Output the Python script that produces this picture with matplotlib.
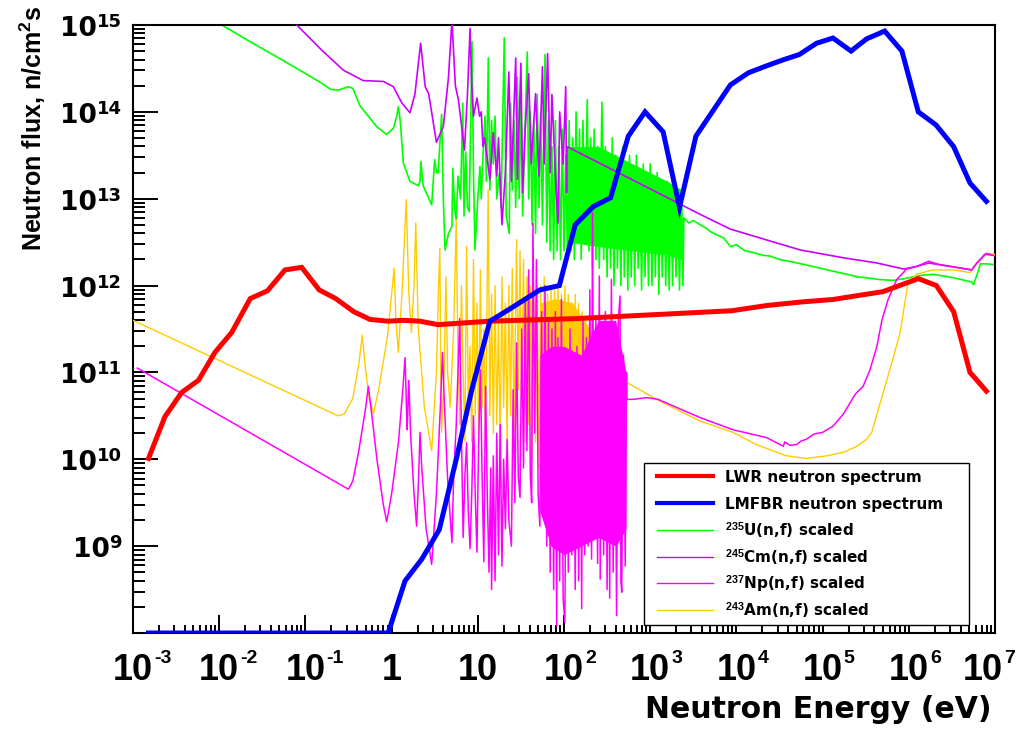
import numpy as np
import matplotlib
matplotlib.use('Agg')
import matplotlib.pyplot as plt
from matplotlib.ticker import FixedLocator, LogLocator, NullFormatter
from matplotlib.transforms import offset_copy
from matplotlib.patches import Rectangle
from matplotlib.lines import Line2D

plt.rcParams['mathtext.fontset'] = 'custom'
plt.rcParams['mathtext.rm'] = 'Liberation Sans:bold'
plt.rcParams['mathtext.bf'] = 'Liberation Sans:bold'
plt.rcParams['mathtext.default'] = 'bf'

# ---- data as (log10 E [eV], log10 flux) ----
lwr = [(-2.82, 10.01), (-2.63, 10.49), (-2.435, 10.77), (-2.24, 10.91), (-2.05, 11.23),
       (-1.855, 11.46), (-1.64, 11.85), (-1.44, 11.94), (-1.237, 12.18), (-1.043, 12.21),
       (-0.84, 11.95), (-0.648, 11.85), (-0.44, 11.70), (-0.25, 11.61), (-0.038, 11.59),
       (0.13, 11.60), (0.33, 11.59), (0.54, 11.55), (1.14, 11.59), (2.147, 11.62),
       (3.945, 11.71), (4.35, 11.77), (4.74, 11.81), (5.12, 11.84), (5.70, 11.93),
       (6.11, 12.08), (6.32, 12.0), (6.52, 11.70), (6.71, 11.0), (6.90, 10.785)]

lmfbr = [(-2.82, 8.0), (-0.04, 8.0), (0.156, 8.60), (0.35, 8.85), (0.553, 9.19),
         (0.75, 10.0), (0.93, 10.8), (1.14, 11.59), (1.37, 11.73), (1.72, 11.95),
         (1.946, 12.0), (2.13, 12.70), (2.34, 12.91), (2.54, 13.01), (2.746, 13.72),
         (2.94, 14.0), (3.15, 13.77), (3.34, 12.90), (3.53, 13.72), (3.93, 14.31),
         (4.14, 14.45), (4.35, 14.53), (4.545, 14.6), (4.73, 14.66), (4.93, 14.79),
         (5.12, 14.85), (5.33, 14.70), (5.51, 14.84), (5.72, 14.93), (5.92, 14.70),
         (6.11, 14.0), (6.315, 13.85), (6.52, 13.60), (6.71, 13.18), (6.90, 12.97)]

u235 = [(-2.2, 15.13), (-1.97, 15.0), (-1.68, 14.83), (-1.37, 14.655), (-1.10, 14.50),
        (-0.81, 14.33), (-0.71, 14.26), (-0.62, 14.25), (-0.50, 14.29), (-0.45, 14.27),
        (-0.367, 14.07), (-0.173, 13.83), (-0.058, 13.74), (0.02, 13.81), (0.06, 13.95),
        (0.078, 14.06), (0.10, 13.9), (0.136, 13.41), (0.213, 13.20), (0.31, 13.15),
        (0.33, 13.2), (0.34, 13.43), (0.36, 13.2), (0.37, 13.14), (0.465, 12.93),
        (0.50, 13.45), (0.52, 13.3), (0.54, 13.30), (0.58, 13.97), (0.60, 13.0),
        (0.62, 12.41), (0.66, 12.6), (0.70, 12.68), (0.71, 13.35), (0.73, 12.9),
        (0.75, 12.76), (0.77, 13.26), (0.80, 13.0), (0.825, 14.1), (0.84, 12.8),
        (0.86, 13.54), (0.88, 12.9), (0.90, 12.85), (0.933, 14.81), (0.95, 13.3),
        (0.967, 12.41), (1.0, 13.0), (1.025, 13.37), (1.04, 13.0), (1.06, 13.5),
        (1.083, 13.95), (1.10, 13.2), (1.122, 14.62), (1.14, 13.1), (1.16, 13.9),
        (1.18, 13.4), (1.20, 13.95), (1.22, 13.0), (1.25, 13.3), (1.27, 12.9),
        (1.307, 14.85), (1.33, 12.8), (1.365, 12.6), (1.38, 14.1), (1.40, 13.1),
        (1.42, 13.9), (1.44, 12.9), (1.46, 14.4), (1.48, 13.0), (1.50, 14.1),
        (1.52, 12.8), (1.55, 13.9), (1.574, 14.69), (1.59, 13.0), (1.61, 14.0),
        (1.63, 12.7), (1.65, 13.9), (1.67, 12.6), (1.69, 14.2), (1.71, 12.9),
        (1.73, 14.0), (1.75, 12.7), (1.78, 14.66), (1.80, 12.5), (1.82, 13.9),
        (1.84, 12.4), (1.86, 13.6), (1.88, 12.3), (1.90, 13.9), (1.92, 12.4),
        (1.94, 13.6), (1.96, 12.3), (1.98, 13.8), (2.00, 12.4), (2.02, 13.5),
        (2.04, 12.3), (2.06, 13.9), (2.08, 12.4), (2.10, 13.7), (2.12, 12.3),
        (2.14, 14.0), (2.16, 12.5), (2.18, 13.8), (2.20, 12.3), (2.22, 13.9),
        (2.24, 12.6), (2.27, 14.14), (2.29, 12.4), (2.31, 13.7), (2.33, 12.2),
        (2.35, 13.8), (2.37, 12.3), (2.39, 13.6), (2.41, 12.2), (2.44, 14.11),
        (2.46, 12.3), (2.48, 13.6), (2.50, 12.1), (2.52, 13.5), (2.54, 12.2),
        (2.56, 13.7), (2.58, 12.0), (2.60, 13.5), (2.62, 12.2), (2.64, 13.4),
        (2.66, 12.0), (2.68, 13.6), (2.70, 12.1), (2.72, 13.4), (2.74, 11.95),
        (2.76, 13.5), (2.78, 12.1), (2.80, 13.3), (2.82, 12.0), (2.84, 13.5),
        (2.86, 12.2), (2.88, 13.3), (2.90, 11.95), (2.92, 13.4), (2.94, 12.1),
        (2.96, 13.2), (2.98, 12.0), (3.00, 13.4), (3.02, 12.0), (3.04, 13.2),
        (3.06, 12.1), (3.08, 13.3), (3.10, 11.9), (3.12, 13.2), (3.14, 12.1),
        (3.16, 13.1), (3.18, 12.0), (3.20, 13.2), (3.22, 11.95), (3.24, 13.1),
        (3.26, 12.0), (3.28, 13.2), (3.30, 12.1), (3.32, 13.0), (3.34, 11.95),
        (3.36, 13.1), (3.38, 12.0), (3.39, 12.78), (3.45, 12.72), (3.5, 12.75),
        (3.58, 12.7), (3.65, 12.66), (3.7, 12.62), (3.78, 12.58), (3.85, 12.55),
        (3.93, 12.45), (4.0, 12.47), (4.1, 12.4), (4.2, 12.38), (4.3, 12.35),
        (4.39, 12.34), (4.5, 12.3), (4.66, 12.27), (4.8, 12.24), (4.97, 12.20),
        (5.1, 12.17), (5.28, 12.13), (5.4, 12.1), (5.51, 12.09), (5.65, 12.07),
        (5.82, 12.06), (5.95, 12.08), (6.05, 12.10), (6.17, 12.12), (6.28, 12.13),
        (6.4, 12.11), (6.52, 12.09), (6.65, 12.06), (6.73, 12.04), (6.75, 12.01),
        (6.8, 12.15), (6.83, 12.25), (6.9, 12.25), (7.0, 12.24)]
u235_core_logE = [2.04, 2.4, 2.8, 3.2, 3.37]
u235_core_hi = [13.6, 13.6, 13.4, 13.2, 13.1]
u235_core_lo = [12.5, 12.45, 12.4, 12.35, 12.3]

cm245 = [(-1.3, 15.15), (-1.10, 15.0), (-0.81, 14.71), (-0.56, 14.48), (-0.33, 14.36),
         (-0.095, 14.35), (0.02, 14.29), (0.12, 14.10), (0.213, 13.99), (0.27, 14.2),
         (0.337, 14.79), (0.39, 14.29), (0.43, 14.21), (0.52, 13.65), (0.60, 13.83),
         (0.66, 14.4), (0.70, 15.05), (0.74, 14.3), (0.775, 14.14), (0.845, 13.56),
         (0.88, 14.2), (0.91, 14.96), (0.93, 14.3), (0.95, 13.95), (0.99, 14.16),
         (1.02, 13.95), (1.04, 14.0), (1.06, 13.6), (1.08, 13.7), (1.14, 13.22),
         (1.18, 13.76), (1.22, 13.26), (1.24, 13.7), (1.28, 12.70), (1.32, 13.3),
         (1.36, 14.46), (1.39, 13.2), (1.44, 14.62), (1.46, 13.22), (1.50, 14.56),
         (1.52, 13.07), (1.55, 13.8), (1.59, 14.44), (1.62, 13.4), (1.67, 14.21),
         (1.71, 13.26), (1.75, 14.52), (1.77, 13.4), (1.81, 14.67), (1.84, 13.3),
         (1.86, 14.2), (1.91, 13.07), (1.93, 12.72), (1.95, 14.0), (1.99, 13.4),
         (2.02, 14.29), (2.03, 13.07), (2.035, 13.60), (3.58, 12.82), (3.93, 12.65),
         (4.74, 12.41), (5.24, 12.32), (5.63, 12.26), (5.94, 12.19), (6.09, 12.22),
         (6.23, 12.26), (6.36, 12.24), (6.73, 12.18), (6.79, 12.26), (6.88, 12.36),
         (7.0, 12.35)]

np237 = [(-2.95, 11.05), (-0.50, 9.655), (-0.45, 9.75), (-0.38, 10.1), (-0.30, 10.6),
         (-0.27, 10.84), (-0.24, 10.6), (-0.17, 10.0), (-0.10, 9.5), (-0.057, 9.28),
         (0.0, 9.6), (0.08, 10.2), (0.13, 10.8), (0.156, 11.17), (0.17, 10.7),
         (0.18, 10.34), (0.19, 10.6), (0.20, 10.91), (0.22, 10.3), (0.26, 9.6),
         (0.29, 9.23), (0.31, 9.7), (0.33, 10.31), (0.35, 9.9), (0.40, 9.2),
         (0.465, 8.79), (0.52, 9.6), (0.57, 10.7), (0.59, 11.23), (0.61, 10.7),
         (0.65, 9.77), (0.70, 9.04), (0.72, 9.8), (0.75, 10.4), (0.77, 11.0),
         (0.79, 11.62), (0.81, 10.3), (0.83, 9.10), (0.85, 9.8), (0.87, 10.19),
         (0.89, 9.4), (0.91, 8.97), (0.93, 9.6), (0.95, 10.50), (0.97, 9.6),
         (0.99, 8.93), (1.01, 10.2), (1.03, 11.03), (1.05, 9.8), (1.07, 8.82),
         (1.09, 10.84), (1.11, 9.6), (1.13, 8.7), (1.15, 9.9), (1.16, 8.5),
         (1.18, 10.04), (1.20, 8.6), (1.22, 10.3), (1.24, 8.9), (1.26, 10.4),
         (1.28, 8.77), (1.30, 10.0), (1.32, 9.2), (1.34, 10.23), (1.36, 9.3),
         (1.39, 9.0), (1.41, 10.8), (1.43, 9.5), (1.45, 11.34), (1.47, 9.8),
         (1.49, 9.56), (1.51, 11.5), (1.53, 9.9), (1.55, 11.84), (1.57, 10.1),
         (1.59, 12.18), (1.61, 9.8), (1.625, 9.5), (1.64, 12.72), (1.66, 10.3),
         (1.68, 12.30), (1.70, 9.6), (1.72, 9.23), (1.74, 11.7), (1.76, 9.4),
         (1.78, 12.0), (1.80, 9.0), (1.82, 11.6), (1.84, 8.7), (1.86, 11.5),
         (1.88, 8.5), (1.90, 11.7), (1.915, 8.08), (1.93, 11.4), (1.95, 8.6),
         (1.97, 11.84), (1.99, 8.4), (2.01, 8.12), (2.03, 11.2), (2.05, 8.7),
         (2.07, 11.5), (2.09, 8.9), (2.11, 11.07), (2.13, 8.5), (2.15, 11.3),
         (2.17, 8.6), (2.19, 11.1), (2.205, 8.28), (2.22, 11.6), (2.24, 8.9),
         (2.26, 11.4), (2.28, 9.0), (2.30, 11.95), (2.32, 8.85), (2.33, 12.84),
         (2.35, 9.1), (2.37, 11.6), (2.39, 8.8), (2.41, 12.11), (2.42, 8.62),
         (2.44, 11.5), (2.46, 8.9), (2.48, 11.7), (2.50, 8.5), (2.52, 11.4),
         (2.53, 8.4), (2.55, 12.07), (2.57, 8.7), (2.59, 11.3), (2.61, 8.2),
         (2.63, 11.6), (2.65, 11.88), (2.66, 8.6), (2.67, 8.47), (2.69, 11.2),
         (2.71, 8.77), (2.725, 11.0), (2.73, 10.69), (2.80, 10.69), (2.96, 10.71),
         (3.09, 10.69), (3.3, 10.6), (3.58, 10.48), (3.96, 10.34), (4.35, 10.25),
         (4.545, 10.15), (4.56, 10.2), (4.62, 10.16), (4.70, 10.17), (4.75, 10.21),
         (4.81, 10.23), (4.90, 10.29), (5.0, 10.31), (5.12, 10.38), (5.24, 10.52),
         (5.38, 10.75), (5.47, 10.84), (5.55, 11.03), (5.63, 11.30), (5.69, 11.61),
         (5.76, 11.84), (5.86, 12.07), (5.975, 12.19), (6.09, 12.22), (6.23, 12.28),
         (6.36, 12.24), (6.55, 12.21), (6.73, 12.18), (6.79, 12.26), (6.90, 12.37),
         (7.0, 12.34)]
np237_core_logE = [1.72, 1.85, 2.0, 2.2, 2.4, 2.6, 2.72]
np237_core_hi = [11.2, 11.3, 11.3, 11.2, 11.6, 11.6, 11.0]
np237_core_lo = [9.4, 9.0, 8.9, 9.0, 9.1, 9.0, 9.2]

am243 = [(-3.0, 11.60), (-0.62, 10.50), (-0.55, 10.52), (-0.45, 10.7), (-0.38, 11.1),
         (-0.34, 11.43), (-0.31, 11.1), (-0.26, 10.7), (-0.21, 10.53), (-0.15, 10.8),
         (-0.05, 11.4), (0.0, 11.9), (0.03, 12.20), (0.05, 11.6), (0.078, 11.23),
         (0.12, 11.9), (0.17, 12.99), (0.20, 11.9), (0.23, 11.46), (0.26, 12.0),
         (0.28, 12.72), (0.31, 11.5), (0.38, 10.6), (0.465, 10.10), (0.52, 11.0),
         (0.545, 12.0), (0.56, 12.43), (0.57, 11.0), (0.58, 10.31), (0.61, 11.0),
         (0.63, 12.1), (0.65, 11.0), (0.68, 10.6), (0.72, 11.5), (0.75, 12.76),
         (0.77, 11.2), (0.79, 10.4), (0.81, 12.0), (0.83, 11.0), (0.85, 10.2),
         (0.87, 12.45), (0.89, 10.6), (0.91, 11.3), (0.93, 10.2), (0.95, 12.3),
         (0.97, 10.5), (0.99, 11.8), (1.01, 10.3), (1.03, 12.18), (1.05, 10.6),
         (1.07, 11.5), (1.09, 10.2), (1.12, 13.10), (1.14, 10.5), (1.16, 11.9),
         (1.18, 10.3), (1.20, 12.0), (1.22, 10.4), (1.24, 11.6), (1.26, 10.1),
         (1.28, 12.1), (1.30, 10.6), (1.32, 11.8), (1.34, 10.2), (1.36, 12.0),
         (1.38, 10.5), (1.40, 12.2), (1.42, 10.3), (1.45, 12.53), (1.47, 10.8),
         (1.49, 12.4), (1.51, 10.6), (1.53, 12.3), (1.55, 10.2), (1.57, 12.1),
         (1.59, 10.4), (1.61, 12.0), (1.63, 10.0), (1.65, 11.9), (1.67, 10.2),
         (1.69, 12.0), (1.71, 9.9), (1.73, 12.0), (1.75, 10.1), (1.77, 12.1),
         (1.79, 9.6), (1.81, 11.9), (1.83, 10.0), (1.85, 12.0), (1.87, 9.8),
         (1.89, 11.95), (1.91, 10.3), (1.93, 12.0), (1.95, 10.0), (1.97, 11.9),
         (1.99, 9.8), (2.01, 12.0), (2.03, 10.2), (2.05, 11.9), (2.07, 10.0),
         (2.09, 11.8), (2.11, 10.4), (2.13, 11.9), (2.15, 10.1), (2.17, 11.8),
         (2.19, 9.8), (2.21, 11.7), (2.23, 10.2), (2.25, 11.6), (2.27, 9.5),
         (2.29, 11.5), (2.31, 10.0), (2.33, 11.4), (2.35, 9.7), (2.37, 11.3),
         (2.39, 10.2), (2.41, 11.2), (2.43, 10.8), (2.5, 11.01), (2.88, 10.80),
         (3.11, 10.67), (3.58, 10.44), (3.96, 10.31), (4.23, 10.17), (4.58, 10.04),
         (4.81, 10.01), (5.05, 10.04), (5.24, 10.08), (5.40, 10.15), (5.51, 10.23),
         (5.57, 10.31), (5.68, 10.69), (5.82, 11.17), (5.90, 11.46), (5.99, 12.03),
         (6.09, 12.13), (6.28, 12.18), (6.52, 12.18), (6.71, 12.15), (6.79, 12.26),
         (6.90, 12.37), (7.0, 12.36)]
am243_core_logE = [1.72, 1.9, 2.1, 2.3, 2.4]
am243_core_hi = [11.8, 11.85, 11.8, 11.5, 11.2]
am243_core_lo = [10.2, 10.0, 9.9, 10.0, 10.3]

x_decades = list(range(-3, 8))
y_decades = list(range(9, 16))

legend_labels = ['LWR neutron spectrum', 'LMFBR neutron spectrum',
                 r'$^{235}$U(n,f) scaled', r'$^{245}$Cm(n,f) scaled',
                 r'$^{237}$Np(n,f) scaled', r'$^{243}$Am(n,f) scaled']

RED, BLUE, GREEN = '#ff0000', '#0000ff', '#00ff00'
PURPLE, MAGENTA, ORANGE = '#cc00ff', '#ff00ff', '#ffcc00'


def unpack(pairs):
    e, f = zip(*pairs)
    return 10.0 ** np.array(e), 10.0 ** np.array(f)


W, H = 1026, 729
fig = plt.figure(figsize=(W / 100, H / 100), dpi=100)
ax = fig.add_axes([133 / W, 96 / H, 862 / W, 608 / H])
ax.set_xscale('log')
ax.set_yscale('log')

# cross sections (thin) first, spectra on top
ax.fill_between(10.0 ** np.array(u235_core_logE), 10.0 ** np.array(u235_core_lo),
                10.0 ** np.array(u235_core_hi), color=GREEN, lw=0, zorder=2)
ax.plot(*unpack(u235), color=GREEN, lw=1.2, zorder=2)
ax.plot(*unpack(cm245), color=PURPLE, lw=1.2, zorder=3)
ax.fill_between(10.0 ** np.array(am243_core_logE), 10.0 ** np.array(am243_core_lo),
                10.0 ** np.array(am243_core_hi), color=ORANGE, lw=0, zorder=4)
ax.plot(*unpack(am243), color=ORANGE, lw=1.0, zorder=4)
ax.fill_between(10.0 ** np.array(np237_core_logE), 10.0 ** np.array(np237_core_lo),
                10.0 ** np.array(np237_core_hi), color=MAGENTA, lw=0, zorder=5)
ax.plot(*unpack(np237), color=MAGENTA, lw=1.1, zorder=5)
ax.plot(*unpack(lwr), color=RED, lw=3.6, zorder=6, solid_joinstyle='miter')
ax.plot(*unpack(lmfbr), color=BLUE, lw=3.6, zorder=7, solid_joinstyle='miter')

ax.set_xlim(1e-3, 1e7)
ax.set_ylim(1e8, 1e15)

# ROOT-like axes: ticks inside, only on left and bottom
for sp in ax.spines.values():
    sp.set_linewidth(1.5)
ax.xaxis.set_major_locator(FixedLocator([10.0 ** k for k in x_decades]))
ax.xaxis.set_minor_locator(LogLocator(base=10, subs=np.arange(2, 10), numticks=100))
ax.yaxis.set_major_locator(FixedLocator([10.0 ** k for k in range(8, 16)]))
ax.yaxis.set_minor_locator(LogLocator(base=10, subs=np.arange(2, 10), numticks=100))
ax.xaxis.set_major_formatter(NullFormatter())
ax.xaxis.set_minor_formatter(NullFormatter())
ax.yaxis.set_major_formatter(NullFormatter())
ax.yaxis.set_minor_formatter(NullFormatter())
ax.tick_params(axis='x', which='major', direction='in', length=13, width=1.4, top=False)
ax.tick_params(axis='x', which='minor', direction='in', length=5.8, width=1.4, top=False)
ax.tick_params(axis='y', which='major', direction='in', length=18, width=1.4, right=False)
ax.tick_params(axis='y', which='minor', direction='in', length=8.6, width=1.4, right=False)

renderer = fig.canvas.get_renderer()

# x tick labels: "10" centred on the tick, small exponent to its right
xtr = ax.get_xaxis_transform()
for k in x_decades:
    base = '1' if k == 0 else '10'
    shift = -12 if k == x_decades[-1] else 0
    t = ax.text(10.0 ** k, 0, base,
                transform=offset_copy(xtr, fig=fig, x=shift, y=-47, units='dots'),
                ha='center', va='baseline', fontsize=26, fontweight='bold',
                family='Liberation Sans')
    if k not in (0, 1):
        w = t.get_window_extent(renderer).width
        ax.text(10.0 ** k, 0, str(k),
                transform=offset_copy(xtr, fig=fig, x=shift + w / 2 + 1, y=-30, units='dots'),
                ha='left', va='baseline', fontsize=14, fontweight='bold',
                family='Liberation Sans')

# y tick labels
ytr = ax.get_yaxis_transform()
for k in y_decades:
    s = ax.text(0, 10.0 ** k, str(k), transform=offset_copy(ytr, fig=fig, x=-11, y=-2, units='dots'),
                ha='right', va='baseline', fontsize=13, fontweight='bold', family='DejaVu Sans')
    ws = s.get_window_extent(renderer).width
    ax.text(0, 10.0 ** k, '10', transform=offset_copy(ytr, fig=fig, x=-11 - ws, y=-11, units='dots'),
            ha='right', va='baseline', fontsize=19, fontweight='bold', family='DejaVu Sans')

# axis titles
fig.text(992 / W, 1 - 718 / H, 'Neutron Energy (eV)', ha='right', va='baseline',
         fontsize=21.5, fontweight='bold', family='DejaVu Sans')
fig.text(42 / W, 1 - 6 / H, r'Neutron flux, n/cm$^2$s', rotation=90, rotation_mode='anchor',
         ha='right', va='baseline', fontsize=18, fontweight='bold', family='Liberation Sans')

# legend box
fig.add_artist(Rectangle((644 / W, 1 - 625 / H), 325 / W, 162 / H, transform=fig.transFigure,
                         facecolor='white', edgecolor='black', lw=1.0, zorder=10))
legend_colors = [RED, BLUE, GREEN, PURPLE, MAGENTA, ORANGE]
legend_widths = [3.0, 3.0, 1.0, 1.0, 1.0, 1.0]
row_y = [476, 503, 530, 557, 583, 610]
for lab, c, lw, yy in zip(legend_labels, legend_colors, legend_widths, row_y):
    fig.add_artist(Line2D([657 / W, 713 / W], [1 - yy / H, 1 - yy / H], transform=fig.transFigure,
                          color=c, lw=lw, zorder=11))
    fig.text(725 / W, 1 - (yy + 6) / H, lab, ha='left', va='baseline', fontsize=11,
             fontweight='bold', family='DejaVu Sans', zorder=11)

fig.savefig('out.png', dpi=100)
